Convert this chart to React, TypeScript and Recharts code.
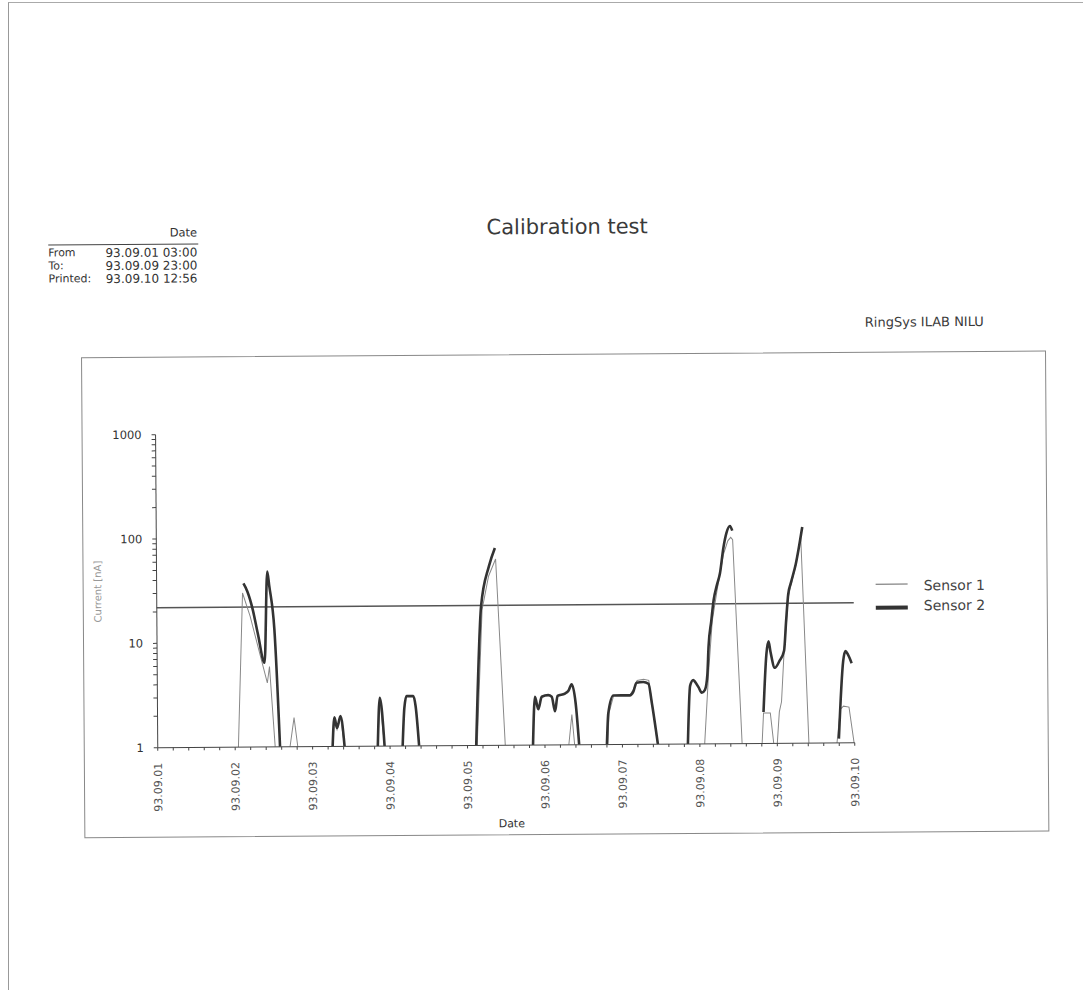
import React from 'react';
import { LineChart, Line, XAxis, YAxis, ReferenceLine } from 'recharts';

// hours counted from 93.09.01 00:00
const dayLabels = [
  '93.09.01', '93.09.02', '93.09.03', '93.09.04', '93.09.05',
  '93.09.06', '93.09.07', '93.09.08', '93.09.09', '93.09.10',
];

const sensor1Hours = [
  25.0, 26.6, 28.9, 34.1, 34.8, 36.4, 38.0,
  41.0, 42.3, 43.4, 48.0,
  54.2, 54.8, 55.6, 56.7, 57.9, 62.0,
  68.2, 68.9, 70.3, 85.0,
  99.0, 100.8, 102.9, 105.1, 107.7, 115.0,
  127.4, 128.4, 129.2, 135.0,
  139.5, 139.9, 141.4, 146.4, 147.6, 148.7, 150.7, 152.3, 153.2, 154.9, 160.0,
  169.5, 170.9, 172.1, 173.7, 175.7, 177.1, 178.0, 178.6, 181.1, 184.0,
  187.3, 187.8, 189.9, 190.9, 191.5,
  192.0, 192.7, 193.4, 194.4, 195.0, 195.7, 196.6, 198.1, 199.7, 201.8, 205.0,
  210.5, 211.6, 212.6, 214.3, 215.8,
];
const sensor1Values = [
  1, 30, 18, 4.1, 5.9, 1, null,
  1, 1.9, 1, null,
  1, 1.85, 1.45, 1.9, 1, null,
  1, 2.8, 1, null,
  1, 20, 42, 61, 1, null,
  1, 1.95, 1, null,
  1, 2.0, 2.95, 2.95, 3.4, 4.1, 4.2, 4.1, 2.6, 1, null,
  1, 5, 15, 30, 65, 88, 95, 90, 1, null,
  1, 1.96, 1.96, 1, null,
  1, 2.0, 2.5, 8.5, 13, 25, 33, 50, 97, 1, null,
  1, 2.1, 2.25, 2.2, 1,
];

const sensor2Hours = [
  26.9, 28.1, 29.7, 31.3, 33.3, 34.3, 34.9, 36.4, 37.9, 45.0,
  54.2, 54.8, 55.6, 56.7, 57.9, 62.0,
  68.2, 68.9, 70.3, 73.0,
  75.9, 76.5, 77.2, 79.3, 80.0, 81.0, 90.0,
  98.7, 100.5, 103.0, 104.9, 110.0,
  116.3, 117.0, 118.0, 119.1, 121.1, 122.2, 123.2, 124.0, 126.3, 127.4, 128.4, 129.6, 130.6, 135.0,
  139.2, 139.7, 141.3, 146.4, 147.5, 148.5, 150.6, 152.2, 153.2, 155.0, 160.0,
  164.3, 165.1, 166.1, 166.6, 167.7, 168.7, 169.7, 170.5, 170.9, 171.8, 172.6, 173.6, 174.6, 175.7, 176.7, 177.8, 178.5, 183.0,
  187.8, 188.8, 189.5, 190.1, 191.4, 192.9, 194.3, 195.0, 195.7, 196.6, 198.1, 200.2, 205.0,
  211.1, 212.6, 213.3, 214.1, 215.2,
];
const sensor2Values = [
  37, 31, 21, 12, 6.4, 48, 35, 13.3, 1, null,
  1, 1.9, 1.5, 1.95, 1, null,
  1, 2.9, 1, null,
  1, 2.3, 3.0, 3.0, 2.4, 1, null,
  1, 21.6, 52, 78, null,
  1, 2.9, 2.2, 2.9, 3.0, 2.9, 2.1, 2.95, 3.1, 3.3, 3.8, 2.5, 1, null,
  1, 2.0, 2.95, 2.95, 3.2, 3.9, 3.95, 3.8, 2.5, 1, null,
  1, 3.6, 4.1, 3.95, 3.5, 3.1, 3.3, 4.7, 8.5, 15, 24, 33, 43, 75, 105, 122, 110, null,
  2.0, 7.1, 9.5, 7.5, 5.3, 6.2, 7.7, 14.9, 26.8, 34.8, 52, 118, null,
  1.1, 6.1, 7.6, 7.0, 5.8,
];

const limitValue = 22;
const decadeTicks = [1, 10, 100, 1000];

const infoRows = [
  { label: 'From', value: '93.09.01 03:00' },
  { label: 'To:', value: '93.09.09 23:00' },
  { label: 'Printed:', value: '93.09.10 12:56' },
];

const toData = (hours: number[], values: (number | null)[]) =>
  hours.map((h, i) => ({ h, v: values[i] }));

const sensor1Data = toData(sensor1Hours, sensor1Values);
const sensor2Data = toData(sensor2Hours, sensor2Values);

// minor ticks every fifth of a day
const xTicks = Array.from({ length: 46 }, (_, i) => Math.round(i * 4.8 * 10) / 10);
const yTicks = [1, 2, 3, 4, 5, 6, 7, 8, 9, 10, 20, 30, 40, 50, 60, 70, 80, 90, 100, 200, 300, 400, 500, 600, 700, 800, 900, 1000];

const font = '"DejaVu Sans", sans-serif';

const DayTick = (props: any) => {
  const { x, y, payload } = props;
  const idx = payload.value / 24;
  if (Math.abs(idx - Math.round(idx)) > 0.001) return <g />;
  const tx = x + 4;
  const ty = y + 10;
  return (
    <text
      x={tx}
      y={ty}
      transform={`rotate(-90 ${tx} ${ty})`}
      textAnchor="end"
      fontSize={11}
      fontFamily={font}
      fill="#555"
    >
      {dayLabels[Math.round(idx)]}
    </text>
  );
};

const YTitle = (props: any) => {
  const vb = props.viewBox || { x: 60, y: 432, width: 96, height: 313 };
  const cx = vb.x + 37;
  const cy = vb.y + vb.height / 2;
  return (
    <text
      x={cx}
      y={cy}
      transform={`rotate(-90 ${cx} ${cy})`}
      textAnchor="middle"
      dominantBaseline="central"
      fontSize={10}
      fontFamily={font}
      fill="#999"
    >
      Current [nA]
    </text>
  );
};

export default function App() {
  const text = { position: 'absolute' as const, fontFamily: font, color: '#333', whiteSpace: 'nowrap' as const };
  return (
    <div style={{ position: 'absolute', left: 0, top: 0, width: 1083, height: 990, background: '#fff', overflow: 'hidden' }}>
      <div style={{ position: 'absolute', left: 8, top: 2, width: 1080, height: 990, borderLeft: '1px solid #999', borderTop: '1px solid #aaa' }} />
      <div style={{ position: 'absolute', left: 0, top: 0, width: 1083, height: 990, transform: 'rotate(-0.4deg)', transformOrigin: '541px 495px' }}>
        {/* header block */}
        <div style={{ ...text, right: 1083 - 199, top: 223, fontSize: 11.5 }}>Date</div>
        <div style={{ position: 'absolute', left: 50, top: 241, width: 150, borderTop: '1px solid #444' }} />
        {infoRows.map((r, i) => (
          <React.Fragment key={r.label}>
            <div style={{ ...text, left: 50, top: 243 + i * 13, fontSize: 11, lineHeight: '14px' }}>{r.label}</div>
            <div style={{ ...text, right: 1083 - 199, top: 243 + i * 13, fontSize: 12, lineHeight: '14px' }}>{r.value}</div>
          </React.Fragment>
        ))}

        <div style={{ ...text, left: 0, width: 1138, top: 215, textAlign: 'center', fontSize: 21, color: '#3a3a3a' }}>
          Calibration test
        </div>
        <div style={{ ...text, left: 866, top: 317, fontSize: 13, color: '#3a3a3a' }}>RingSys ILAB NILU</div>

        {/* chart frame */}
        <div style={{ position: 'absolute', left: 82, top: 354, width: 963, height: 479, border: '1px solid #888' }} />

        <div style={{ position: 'absolute', left: 60, top: 400 }}>
          <LineChart width={803} height={430} margin={{ top: 32, right: 10, bottom: 0, left: 0 }}>
            <XAxis
              dataKey="h"
              type="number"
              domain={[0, 216]}
              ticks={xTicks}
              interval={0}
              tick={<DayTick />}
              tickSize={3}
              tickMargin={2}
              height={85}
              stroke="#444"
              label={{ value: 'Date', position: 'insideBottom', offset: 3, dx: 5, fontSize: 11, fontFamily: font, fill: '#333' }}
            />
            <YAxis
              type="number"
              scale="log"
              domain={[1, 1000]}
              allowDataOverflow
              ticks={yTicks}
              interval={0}
              width={96}
              tickSize={4}
              tickMargin={10}
              stroke="#444"
              tick={{ fontSize: 11.5, fontFamily: font, fill: '#333' }}
              tickFormatter={(v: number) => (decadeTicks.includes(v) ? String(v) : '')}
              label={<YTitle />}
            />
            <ReferenceLine y={limitValue} stroke="#555" strokeWidth={1.5} />
            <Line
              data={sensor1Data}
              dataKey="v"
              name="Sensor 1"
              type="linear"
              stroke="#888"
              strokeWidth={1}
              dot={false}
              activeDot={false}
              connectNulls={false}
              isAnimationActive={false}
            />
            <Line
              data={sensor2Data}
              dataKey="v"
              name="Sensor 2"
              type="monotone"
              stroke="#333"
              strokeWidth={2.6}
              dot={false}
              activeDot={false}
              connectNulls={false}
              isAnimationActive={false}
            />
          </LineChart>
        </div>

        {/* legend */}
        <div style={{ position: 'absolute', left: 875, top: 586, width: 32, borderTop: '1px solid #666' }} />
        <div style={{ ...text, left: 923, top: 579, fontSize: 14, lineHeight: '18px', color: '#444' }}>Sensor 1</div>
        <div style={{ position: 'absolute', left: 875, top: 608, width: 32, height: 4, background: '#333' }} />
        <div style={{ ...text, left: 923, top: 599, fontSize: 14, lineHeight: '18px', color: '#444' }}>Sensor 2</div>
      </div>
    </div>
  );
}
